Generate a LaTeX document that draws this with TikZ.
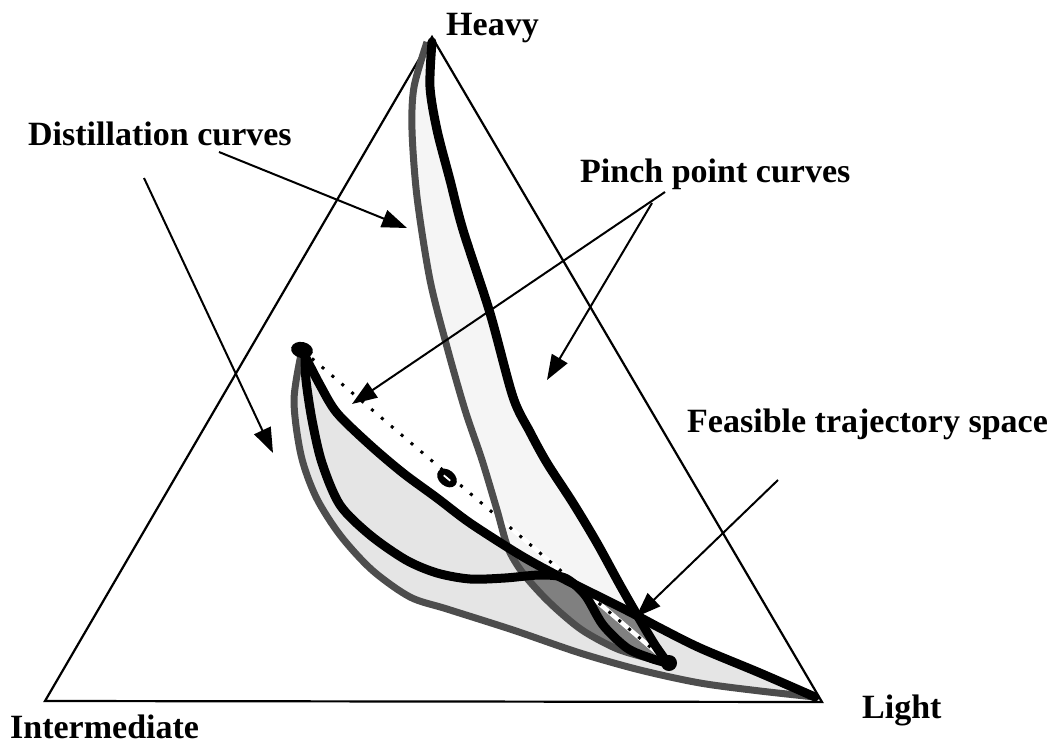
\documentclass[tikz,border=0pt]{standalone}
\usepackage{fontspec}
\setmainfont{Liberation Serif}
\usetikzlibrary{arrows.meta,shapes.geometric}
\definecolor{dgray}{HTML}{4D4D4D}
\definecolor{afill}{HTML}{F5F5F5}
\definecolor{bfill}{HTML}{E5E5E5}
\definecolor{ofill}{HTML}{808080}
\begin{document}
\begin{tikzpicture}[x=1pt,y=-1pt,
  lbl/.style={font=\fontsize{34}{40}\selectfont\bfseries, inner sep=0pt, anchor=base west},
  side/.style={line width=2.2pt, line join=miter},
  arr/.style={line width=2pt, -{Triangle[length=25pt,width=18pt]}},
  grayline/.style={line width=7pt, draw=dgray, line join=round},
  blackline/.style={line width=9pt, draw=black, line join=round, line cap=round},
  blob/.style={fill=black, draw=none, inner sep=0pt},
]
\useasboundingbox (0,0) rectangle (1055,744);

% triangle
\coordinate (H) at (432,37);
\coordinate (I) at (45,701);
\coordinate (L) at (822,702);
\draw[side] (H) -- (I) -- (L) -- cycle;

\def\pathA{plot[smooth] coordinates {(427,42) (414,87) (412,130) (417,197) (430,280) (447,347) (465,410) (482,460) (497,510) (508,548) (522,572) (542,595) (562,614) (585,632) (620,650) (667,663)} -- plot[smooth] coordinates {(667,663) (655,645) (640,620) (620,585) (597,543) (573,503) (547,463) (530,432) (513,397) (490,313) (463,230) (450,180) (437,130) (430,87) (432,42)} -- cycle}
\def\pathB{plot[smooth] coordinates {(302,350) (294,400) (301,455) (316,497) (340,535) (372,570) (410,597) (447,609) (513,630) (580,653) (640,670) (700,683) (760,691) (815,697)} -- plot[smooth] coordinates {(815,697) (760,673) (700,648) (660,628) (630,612) (600,597) (560,577) (520,555) (470,523) (437,498) (403,473) (370,445) (337,413) (320,385) (303,352)} -- cycle}

% fills
\fill[bfill] \pathB;
\fill[afill] \pathA;
\begin{scope}
  \clip \pathA;
  \fill[ofill] \pathB;
\end{scope}

% end points and dotted line
\coordinate (P) at (302,350);
\coordinate (Q) at (669,663);
\draw[white, line width=4.5pt] (P) -- (Q);
\draw[black, line width=3pt, dash pattern=on 3pt off 10pt] (P) -- (Q);

% boundary lines
\draw[grayline] plot[smooth] coordinates {(302,350) (294,400) (301,455) (316,497) (340,535) (372,570) (410,597) (447,609) (513,630) (580,653) (640,670) (700,683) (760,691) (815,697)};
\draw[grayline] plot[smooth] coordinates {(427,42) (414,87) (412,130) (417,197) (430,280) (447,347) (465,410) (482,460) (497,510) (508,548) (522,572) (542,595) (562,614) (585,632) (620,650) (667,663)};
\draw[blackline] plot[smooth] coordinates {(303,352) (320,385) (337,413) (370,445) (403,473) (437,498) (470,523) (520,555) (560,577) (600,597) (630,612) (660,628) (700,648) (760,673) (815,697)};
\draw[blackline] plot[smooth] coordinates {(305,352) (306,380) (312,420) (322,463) (340,505) (370,535) (406,560) (437,573) (470,579) (505,578) (540,575) (565,578) (585,595) (603,625) (627,648) (650,658) (667,663)};
\draw[blackline] plot[smooth] coordinates {(432,42) (430,87) (437,130) (450,180) (463,230) (490,313) (513,397) (530,432) (547,463) (573,503) (597,543) (620,585) (640,620) (655,645) (667,662)};

\node[blob, ellipse, minimum width=22pt, minimum height=16pt, rotate=-12] (Pdot) at (P) {};
\node[blob, circle, minimum size=16pt] (Qdot) at (Q) {};
\node[blob, ellipse, minimum width=22pt, minimum height=16pt, rotate=-40] (M) at (447,478) {};
\draw[white, line width=1.8pt] ([shift={(-3.2,-2.7)}]M.center) -- ([shift={(3.2,2.7)}]M.center);

% labels
\node[lbl] (heavy) at (446,35) {Heavy};
\node[lbl] (inter) at (10,738) {Intermediate};
\node[lbl] (light) at (862,718) {Light};
\node[lbl] (dist) at (28,145) {Distillation curves};
\node[lbl] (pinch) at (580,182) {Pinch point curves};
\node[lbl] (feas) at (687,432) {Feasible trajectory space};

% arrows
\coordinate (d1s) at (219,152); \coordinate (d1e) at (407,228);
\coordinate (d2s) at (144,178); \coordinate (d2e) at (273,453);
\coordinate (p1s) at (665,192); \coordinate (p1e) at (352,404);
\coordinate (p2s) at (652,203); \coordinate (p2e) at (547,380);
\coordinate (fs) at (778,480);  \coordinate (fe) at (636,617);
\draw[arr] (d1s) -- (d1e);
\draw[arr] (d2s) -- (d2e);
\draw[arr] (p1s) -- (p1e);
\draw[arr] (p2s) -- (p2e);
\draw[arr] (fs) -- (fe);
\end{tikzpicture}
\end{document}
